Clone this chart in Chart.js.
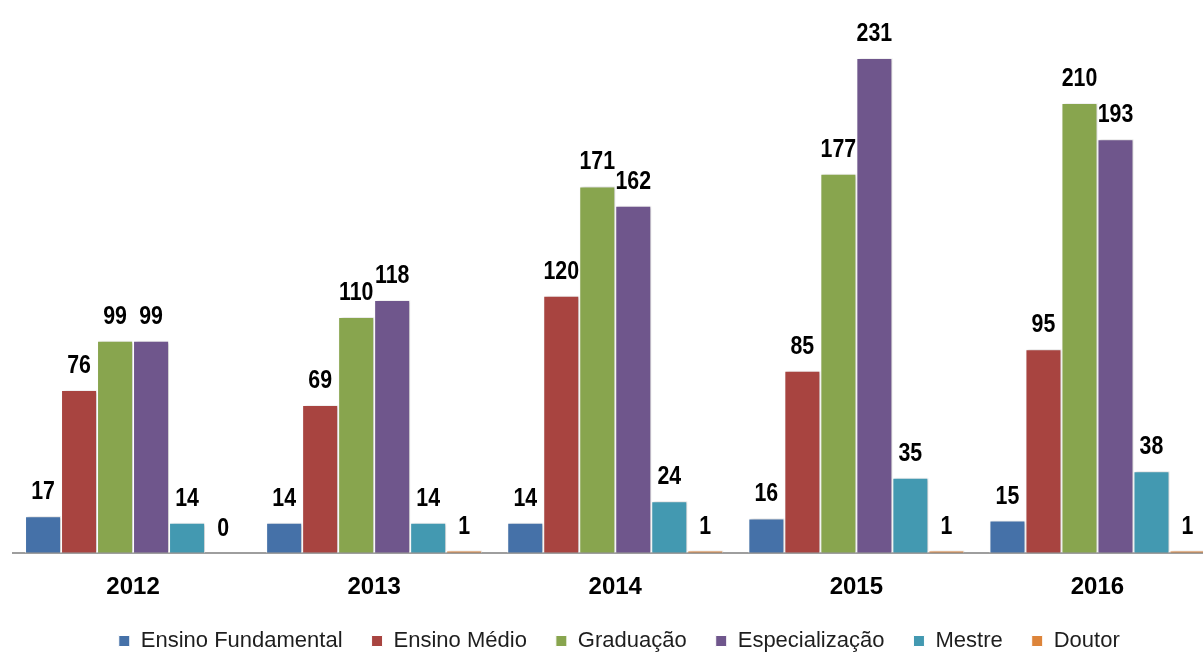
<!DOCTYPE html>
<html>
<head>
<meta charset="utf-8">
<script src="https://cdn.jsdelivr.net/npm/chart.js@4.4.1/dist/chart.umd.min.js"></script>
<style>
  html, body { margin: 0; padding: 0; background: #ffffff; overflow: hidden; }
  #wrap { position: relative; width: 1203px; height: 652px; overflow: hidden; }
  canvas { display: block; }
</style>
</head>
<body>
<div id="wrap"><canvas id="c" width="1226" height="662"></canvas></div>
<script>
const categories = ['2012', '2013', '2014', '2015', '2016'];
const seriesNames = ['Ensino Fundamental', 'Ensino Médio', 'Graduação', 'Especialização', 'Mestre', 'Doutor'];
const ensinoFundamental = [17, 14, 14, 16, 15];
const ensinoMedio = [76, 69, 120, 85, 95];
const graduacao = [99, 110, 171, 177, 210];
const especializacao = [99, 118, 162, 231, 193];
const mestre = [14, 14, 24, 35, 38];
const doutor = [0, 1, 1, 1, 1];
const seriesColors = ['#4571A8', '#A84440', '#88A54E', '#6F568C', '#4399B1', '#DD843A'];

const FONT = '"Liberation Sans", Arial, sans-serif';
const allSeries = [ensinoFundamental, ensinoMedio, graduacao, especializacao, mestre, doutor];

const barShadow = {
  id: 'barShadow',
  beforeDatasetsDraw(chart) {
    const ctx = chart.ctx;
    ctx.save();
    ctx.shadowColor = 'rgba(0,0,0,0.22)';
    ctx.shadowBlur = 3;
    ctx.shadowOffsetX = 2;
    ctx.shadowOffsetY = 0;
  },
  afterDatasetsDraw(chart) {
    chart.ctx.restore();
  }
};

const valueLabels = {
  id: 'valueLabels',
  afterDatasetsDraw(chart) {
    const ctx = chart.ctx;
    const sx = 0.82;
    ctx.save();
    ctx.font = 'bold 26px ' + FONT;
    ctx.fillStyle = '#000000';
    ctx.textAlign = 'center';
    ctx.textBaseline = 'alphabetic';
    ctx.scale(sx, 1);
    chart.data.datasets.forEach((ds, i) => {
      const meta = chart.getDatasetMeta(i);
      meta.data.forEach((el, j) => {
        ctx.fillText(String(ds.data[j]), el.x / sx, el.y - 17);
      });
    });
    ctx.restore();
  }
};

new Chart(document.getElementById('c'), {
  type: 'bar',
  data: {
    labels: categories,
    datasets: allSeries.map((d, i) => ({
      label: seriesNames[i],
      data: d,
      backgroundColor: seriesColors[i],
      borderColor: '#ffffff',
      borderWidth: 1,
      categoryPercentage: 0.896,
      barPercentage: 1.0
    }))
  },
  options: {
    responsive: false,
    animation: false,
    layout: { padding: { left: 12.5, right: 0, top: 17.3, bottom: 0 } },
    plugins: {
      legend: {
        position: 'bottom',
        labels: {
          font: { family: FONT, size: 22 },
          color: '#1e1e1e',
          boxWidth: 11,
          boxHeight: 11,
          padding: 29
        }
      },
      tooltip: { enabled: false },
      title: { display: false }
    },
    scales: {
      x: {
        grid: { display: false, drawTicks: false },
        border: { display: true, color: '#9e9e9e', width: 2 },
        ticks: {
          font: { family: FONT, size: 24, weight: 'bold' },
          color: '#000000',
          padding: 20
        },
        afterFit(scale) { scale.height = 48.3; }
      },
      y: {
        display: false,
        min: 0,
        max: 250
      },
      yRight: {
        type: 'linear',
        position: 'right',
        display: true,
        min: 0,
        max: 250,
        grid: { display: false },
        border: { display: false },
        ticks: { display: false },
        afterFit(scale) { scale.width = 8; }
      }
    }
  },
  plugins: [barShadow, valueLabels]
});
</script>
</body>
</html>
